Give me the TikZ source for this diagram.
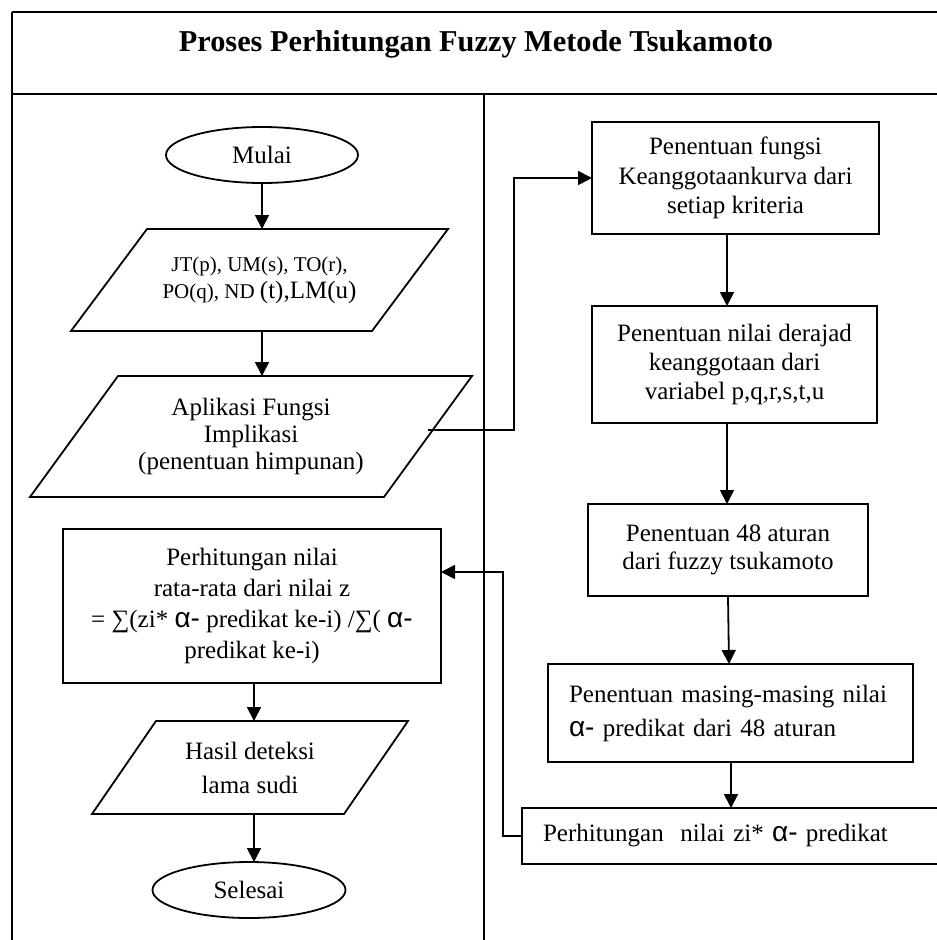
\documentclass[tikz,border=0pt]{standalone}
\usepackage{fontspec}
\setmainfont{Liberation Serif}
\newfontfamily\alf{Liberation Sans}
\usetikzlibrary{shapes.geometric,arrows.meta,calc}
\newcommand\bodyfont{\fontsize{25}{29.5}\selectfont}
\newcommand\smallfont{\fontsize{21}{27}\selectfont}
\newcommand\alfa{{\alf\fontsize{28}{29}\selectfont α-}}
\tikzset{
  frame/.style={line width=2.2pt},
  box/.style={draw, rectangle, inner sep=0pt, outer sep=0pt, align=center, font=\bodyfont},
  term/.style={draw, ellipse, inner sep=0pt, outer sep=0pt, font=\bodyfont},
  iobox/.style={rectangle, inner sep=0pt, outer sep=0pt, align=center, font=\bodyfont},
  arr/.style={-{Triangle[length=14pt,width=14pt]}},
}
\begin{document}
\begin{tikzpicture}[x=1pt,y=-1pt,line width=1.8pt]
\useasboundingbox (0,0) rectangle (937,940);
\clip (0,0) rectangle (937,940);
\fill[white] (0,0) rectangle (937,940);
% frame
\draw[frame] (12,12) -- (960,12);
\draw[frame] (12,94) -- (960,94);
\draw[frame] (12,12) -- (12,960);
\draw[frame] (484,94) -- (484,960);
\node[anchor=base, font=\fontsize{30.3}{36}\selectfont\bfseries] (title) at (476,51) {Proses Perhitungan Fuzzy Metode Tsukamoto};
% left column
\node[term, minimum width=192pt, minimum height=56pt] (mulai) at (262,155) {Mulai};
\node[iobox, minimum width=377pt, minimum height=102pt, font=\smallfont] (p1) at (259.5,280) {JT(p), UM(s), TO(r),\\PO(q), ND {\bodyfont(t),LM(u)}};
\draw ($(p1.north west)+(76,0)$) -- (p1.north east) -- ($(p1.south east)+(-76,0)$) -- (p1.south west) -- cycle;
\node[iobox, minimum width=442pt, minimum height=121pt, font=\fontsize{25}{27}\selectfont] (p2) at (251,436.5) {Aplikasi Fungsi\\Implikasi\\(penentuan himpunan)};
\draw ($(p2.north west)+(88,0)$) -- (p2.north east) -- ($(p2.south east)+(-88,0)$) -- (p2.south west) -- cycle;
\node[box, minimum width=378pt, minimum height=154pt, font=\fontsize{25}{31}\selectfont] (calc) at (252,606) {Perhitungan nilai\\rata-rata dari nilai z\\= ∑(zi* \alfa{} predikat ke-i) /∑( \alfa\\predikat ke-i)};
\node[iobox, minimum width=316pt, minimum height=93pt, font=\fontsize{25}{34}\selectfont] (p3) at (250,767.5) {Hasil deteksi\\lama sudi};
\draw ($(p3.north west)+(64,0)$) -- (p3.north east) -- ($(p3.south east)+(-64,0)$) -- (p3.south west) -- cycle;
\node[term, minimum width=193pt, minimum height=56pt] (selesai) at (249,890) {Selesai};
% right column
\node[box, minimum width=287pt, minimum height=112pt] (b1) at (735.5,178) {Penentuan fungsi\\Keanggotaankurva dari\\setiap kriteria};
\node[box, minimum width=285pt, minimum height=117pt, font=\fontsize{25}{29}\selectfont] (b2) at (734.5,364.5) {Penentuan nilai derajad\\keanggotaan dari\\variabel p,q,r,s,t,u};
\node[box, minimum width=280pt, minimum height=92pt, font=\fontsize{25}{28}\selectfont] (b3) at (728,550) {Penentuan 48 aturan\\dari fuzzy tsukamoto};
\node[box, text width=323pt, inner xsep=21pt, minimum height=98pt, align=left, font=\fontsize{25}{34}\selectfont] (b4) at (730.5,713) {Penentuan masing-masing nilai\\\alfa{} predikat dari 48 aturan};
\node[box, anchor=west, text width=386pt, inner xsep=21pt, minimum height=56pt, align=left] (b5) at (522,836) {Perhitungan\ \ nilai zi* \alfa{} predikat};
% connectors
\draw[arr] (mulai.south) -- (mulai.south |- p1.north);
\draw[arr] (p1.south -| 262,0) -- (p2.north -| 262,0);
\coordinate (p2r) at (428,430);
\draw[arr] (p2r) -- (514,430) |- (b1.west);
\draw[arr] (b1.south -| 727,0) -- (b2.north -| 727,0);
\draw[arr] (b2.south -| 727,0) -- (b3.north -| 727,0);
\draw[arr] (b3.south -| 728,0) -- (b4.north -| 729,0);
\draw[arr] (b4.south -| 731,0) -- (b5.north -| 731,0);
\coordinate (fbk) at (503,572);
\draw[arr] (b5.west) -| (fbk) -- (fbk -| calc.east);
\draw[arr] (calc.south -| 254,0) -- (p3.north -| 254,0);
\draw[arr] (p3.south -| 254,0) -- (selesai.north -| 254,0);
\end{tikzpicture}
\end{document}
